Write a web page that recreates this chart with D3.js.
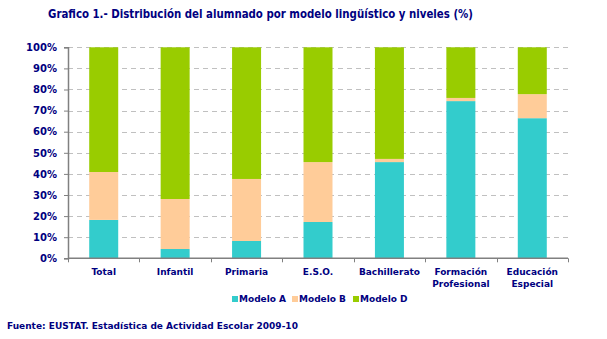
<!DOCTYPE html>
<html><head><meta charset="utf-8">
<script src="https://cdn.jsdelivr.net/npm/d3@7"></script>
<style>body{margin:0;background:#fff}svg{display:block}</style>
</head><body>
<svg id="c" width="607" height="339"></svg>
<script>
const categories = [["Total"],["Infantil"],["Primaria"],["E.S.O."],["Bachillerato"],["Formación","Profesional"],["Educación","Especial"]];
const modeloA = [18.2, 4.4, 8.2, 17.2, 45.6, 74.5, 66.4];
const modeloB = [22.7, 23.7, 29.4, 28.4, 1.5, 1.5, 11.4];
const modeloD = [59.1, 71.9, 62.4, 54.4, 52.9, 24.0, 22.2];
const seriesNames = ["Modelo A","Modelo B","Modelo D"];
const seriesColors = ["#33CCCC","#FFCC99","#99CC00"];
const yTicks = [0,10,20,30,40,50,60,70,80,90,100];
const title = "Grafico 1.- Distribución del alumnado por modelo lingüístico y niveles (%)";
const source = "Fuente: EUSTAT. Estadística de Actividad Escolar 2009-10";

const navy = "#000080", font = "DejaVu Sans, Verdana, sans-serif";
const svg = d3.select("#c");
const x = d3.scaleBand().domain(categories.map((d,i)=>i)).range([68,568]).paddingInner(0.594).paddingOuter(0.297);
const y = d3.scaleLinear().domain([0,100]).range([258.3,47.3]);

svg.append("text").attr("x",260.5).attr("y",17.5).attr("text-anchor","middle")
  .attr("font-family","DejaVu Sans Condensed, DejaVu Sans, sans-serif").attr("font-size",12.3)
  .attr("font-weight","bold").attr("fill",navy)
  .attr("textLength",425).attr("lengthAdjust","spacingAndGlyphs").text(title);

// gridlines
svg.append("g").selectAll("line").data(yTicks.slice(1)).join("line")
  .attr("x1",68).attr("x2",568).attr("y1",d=>Math.round(y(d))+0.5).attr("y2",d=>Math.round(y(d))+0.5)
  .attr("stroke","#C0C0C0").attr("stroke-dasharray","5,4");

// bars
const data = categories.map((c,i)=>({i,A:modeloA[i],B:modeloB[i],D:modeloD[i]}));
const stack = d3.stack().keys(["A","B","D"])(data);
svg.append("g").selectAll("g").data(stack).join("g").attr("fill",(d,k)=>seriesColors[k])
  .selectAll("rect").data(d=>d).join("rect")
  .attr("x",d=>x(d.data.i)).attr("width",x.bandwidth())
  .attr("y",d=>y(d[1])).attr("height",d=>y(d[0])-y(d[1]));

// y axis
const ya = svg.append("g").attr("transform","translate(68,0)")
  .call(d3.axisLeft(y).tickValues(yTicks).tickFormat(d=>d+"%").tickSize(4).tickPadding(7));
ya.select(".domain").attr("stroke","#808080").attr("stroke-width",1.5);
ya.selectAll(".tick line").attr("stroke","#808080");
ya.selectAll("text").attr("font-family",font).attr("font-size",10).attr("font-weight","bold").attr("fill",navy);

// x axis
const xb = d3.scaleLinear().domain([0,7]).range([68,568]);
const xa = svg.append("g").attr("transform","translate(0,258.3)");
xa.append("line").attr("x1",68).attr("x2",568).attr("stroke","#808080").attr("stroke-width",1.5);
xa.selectAll(".t").data(d3.range(8)).join("line").attr("class","t")
  .attr("x1",d=>Math.round(xb(d))+0.5).attr("x2",d=>Math.round(xb(d))+0.5).attr("y1",0).attr("y2",4).attr("stroke","#808080");
xa.selectAll("text").data(categories).join("text")
  .attr("x",(d,i)=>x(i)+x.bandwidth()/2).attr("y",17).attr("text-anchor","middle")
  .attr("font-family",font).attr("font-size",9).attr("font-weight","bold").attr("fill",navy)
  .each(function(d){ d3.select(this).selectAll("tspan").data(d).join("tspan")
    .attr("x",d3.select(this).attr("x")).attr("dy",(t,j)=>j?12:0).text(t=>t); });

// legend
const legendX = [232, 292, 353];
const lg = svg.append("g").attr("transform","translate(0,299)");
seriesNames.forEach((n,k)=>{
  lg.append("rect").attr("x",legendX[k]).attr("y",-3).attr("width",6).attr("height",6).attr("fill",seriesColors[k]);
  lg.append("text").attr("x",legendX[k]+7).attr("y",3).attr("font-family",font).attr("font-size",9)
    .attr("font-weight","bold").attr("fill",navy).text(n);
});

svg.append("text").attr("x",7).attr("y",328.5).attr("font-family",font).attr("font-size",9)
  .attr("font-weight","bold").attr("fill",navy).text(source);
</script>
</body></html>
